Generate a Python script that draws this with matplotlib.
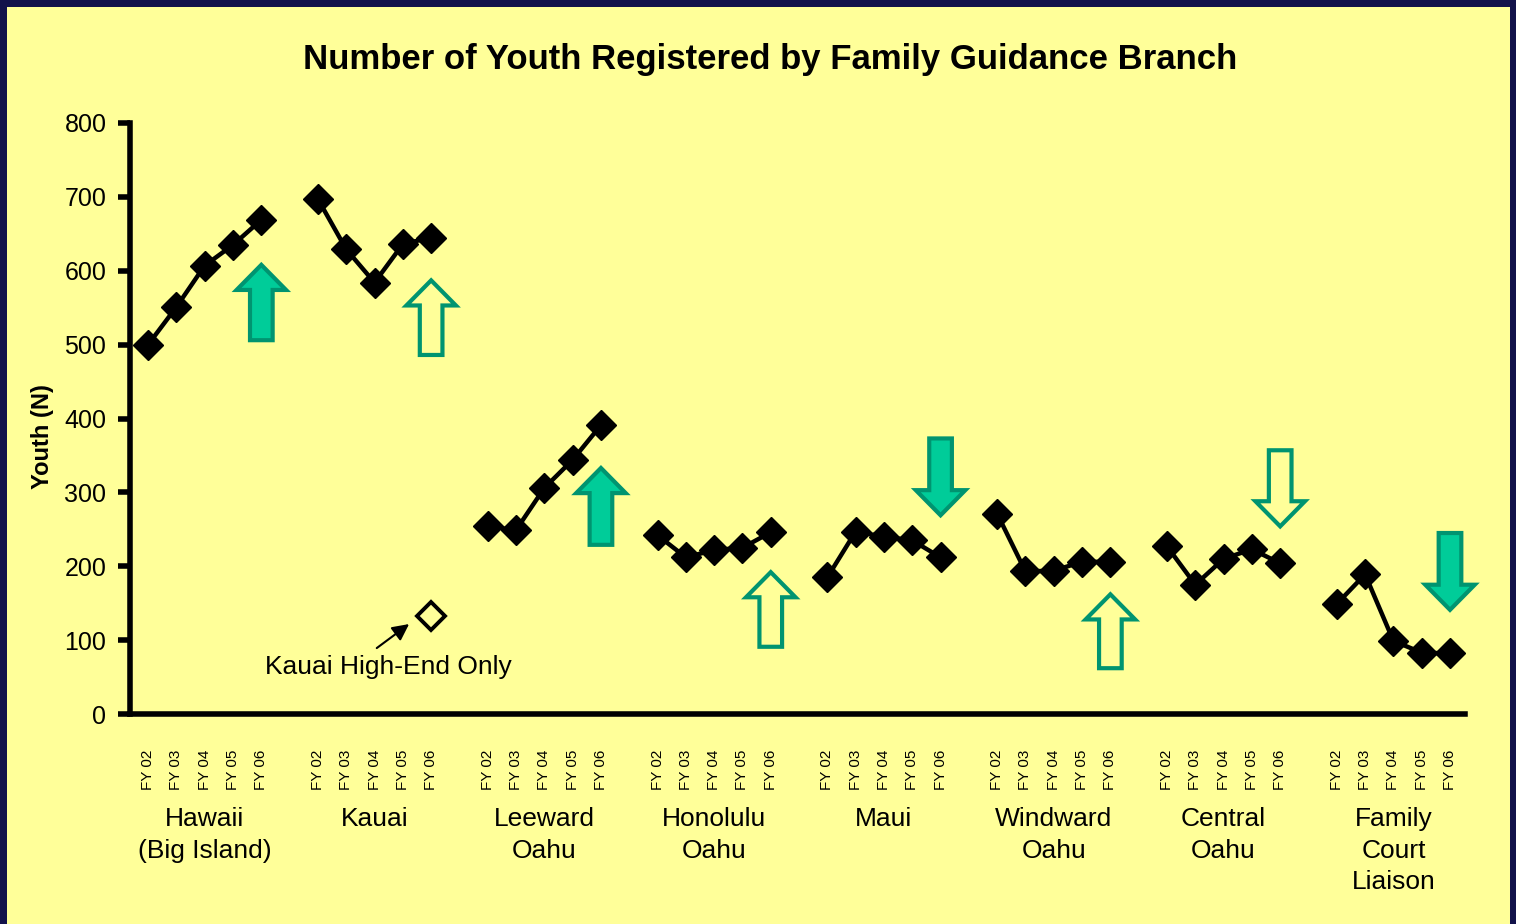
import numpy as np
import matplotlib.pyplot as plt
from matplotlib.patches import Rectangle, FancyArrow

plt.rcParams['font.family'] = ['Liberation Sans', 'DejaVu Sans']

branches = ['Hawaii\n(Big Island)', 'Kauai', 'Leeward\nOahu', 'Honolulu\nOahu', 'Maui',
            'Windward\nOahu', 'Central\nOahu', 'Family\nCourt\nLiaison']
years = ['FY 02', 'FY 03', 'FY 04', 'FY 05', 'FY 06']
youth = [
    [500, 551, 607, 635, 669],
    [697, 629, 584, 636, 645],
    [254, 249, 306, 344, 391],
    [242, 212, 222, 225, 246],
    [185, 247, 240, 235, 212],
    [271, 193, 194, 206, 206],
    [227, 175, 210, 223, 204],
    [149, 189, 99, 83, 82],
]
kauai_high_end = 133
# trend arrow per branch: (filled, base, tip)
trend = [
    (True, 506, 608),
    (False, 486, 587),
    (True, 229, 333),
    (False, 91, 192),
    (True, 373, 269),
    (False, 62, 162),
    (False, 357, 254),
    (True, 245, 141),
]

fig = plt.figure(figsize=(15.16, 9.24), dpi=100)
fig.patch.set_facecolor('#12124a')
fig.patches.append(Rectangle((7/1516, 0), 1503/1516, 917/924, transform=fig.transFigure,
                             facecolor='#ffff99', edgecolor='none', zorder=-10))

ax = fig.add_axes([130/1516, 210/924, 1335/1516, 591/924])
ax.set_facecolor('none')

xs_all = []
for g, vals in enumerate(youth):
    xs = [g*6 + j for j in range(5)]
    xs_all += xs
    ax.plot(xs, vals, color='black', lw=3.2, marker='D', ms=15, mfc='black', mec='black',
            solid_joinstyle='round', zorder=3, clip_on=False)
    filled, base, tip = trend[g]
    ax.add_patch(FancyArrow(xs[-1], base, 0, tip - base, width=0.8, head_width=1.75,
                            head_length=34, length_includes_head=True,
                            facecolor='#00cc99' if filled else '#ffff99',
                            edgecolor='#009470', lw=3, zorder=2, clip_on=False))
    ax.text(g*6 + 2, -0.158, branches[g], transform=ax.get_xaxis_transform(),
            ha='center', va='top', fontsize=19, linespacing=1.38)

# Kauai high-end only point
ax.plot([10], [kauai_high_end], marker='D', ms=14, mfc='#ffff99', mec='black', mew=2.8, zorder=3)
ax.annotate('', xy=(9.3, 124), xytext=(8.0, 87),
            arrowprops=dict(arrowstyle='-|>', color='black', lw=1.5, mutation_scale=25))
ax.text(8.5, 64, 'Kauai High-End Only', ha='center', va='center', fontsize=19)

ax.set_xlim(-0.64, 46.53)
ax.set_ylim(0, 800)
ax.set_yticks(range(0, 801, 100))
ax.tick_params(axis='y', labelsize=18, length=9, width=4, direction='out', pad=8)
ax.set_xticks(xs_all)
ax.set_xticklabels(years * len(branches), rotation=90, fontsize=11)
ax.tick_params(axis='x', length=0, pad=26)
for s in ['top', 'right']:
    ax.spines[s].set_visible(False)
for s in ['left', 'bottom']:
    ax.spines[s].set_linewidth(4)

ax.set_ylabel('Youth (N)', fontsize=17, fontweight='bold', labelpad=2)
ax.yaxis.set_label_coords(-0.057, 0.47)

fig.text(770/1516, 1 - 60/924, 'Number of Youth Registered by Family Guidance Branch',
         ha='center', va='center', fontsize=25, fontweight='bold')

fig.savefig('out.png', dpi=100, facecolor=fig.get_facecolor())
